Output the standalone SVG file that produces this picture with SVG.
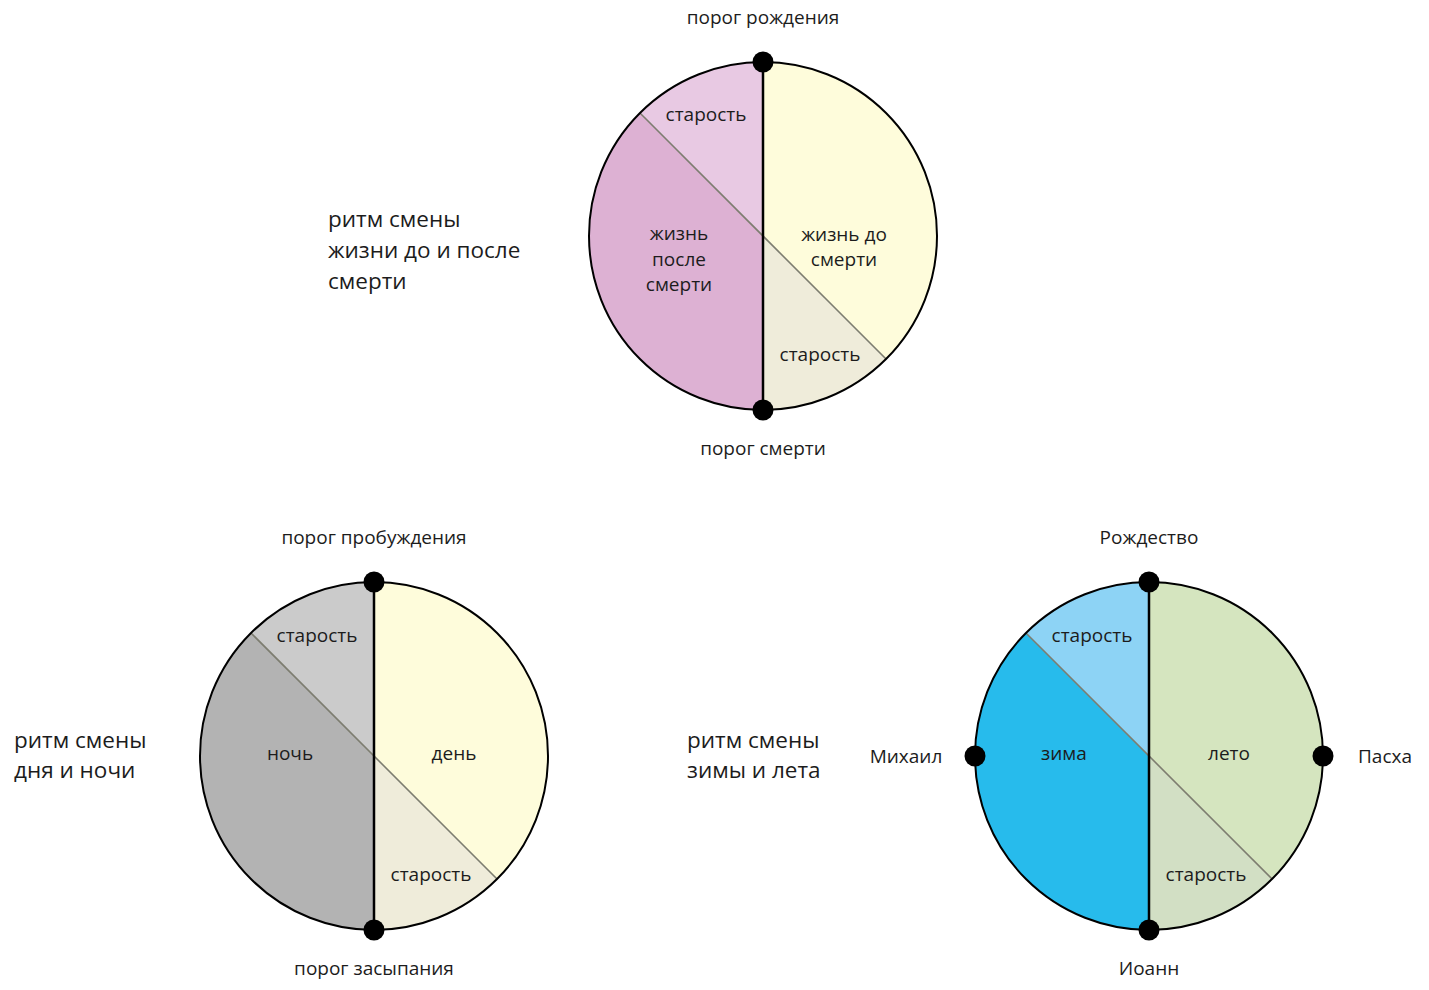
<svg xmlns="http://www.w3.org/2000/svg" width="1429" height="990" viewBox="0 0 1429 990">
<style>
.t{font-family:"Open Sans","Noto Sans","Liberation Sans",sans-serif;font-size:19px;fill:#1c1c1c;text-anchor:middle}
.s{font-family:"Open Sans","Noto Sans","Liberation Sans",sans-serif;font-size:22.5px;fill:#1c1c1c}
.ring{fill:none;stroke:#000;stroke-width:2}
.axis{stroke:#000;stroke-width:2.5}
.diag{stroke:#7d7d70;stroke-width:1.6}
.dot{fill:#000}
</style>
<rect width="1429" height="990" fill="#fff"/>

<g id="life">
  <path d="M763 236 L639.96 112.96 A174 174 0 0 1 763 62 Z" fill="#e8c9e3"/>
  <path d="M763 236 L763 410 A174 174 0 0 1 639.96 112.96 Z" fill="#ddb1d3"/>
  <path d="M763 236 L763 62 A174 174 0 0 1 886.04 359.04 Z" fill="#fefcdb"/>
  <path d="M763 236 L886.04 359.04 A174 174 0 0 1 763 410 Z" fill="#efecda"/>
  <line class="diag" x1="639.96" y1="112.96" x2="886.04" y2="359.04"/>
  <circle class="ring" cx="763" cy="236" r="174"/>
  <line class="axis" x1="763" y1="62" x2="763" y2="410"/>
  <circle class="dot" cx="763" cy="62" r="10.5"/>
  <circle class="dot" cx="763" cy="410" r="10.5"/>
  <text class="t" x="763" y="24">порог рождения</text>
  <text class="t" x="706" y="121">старость</text>
  <text class="t" x="679" y="240">жизнь</text>
  <text class="t" x="679" y="266">после</text>
  <text class="t" x="679" y="291">смерти</text>
  <text class="t" x="844" y="241">жизнь до</text>
  <text class="t" x="844" y="266">смерти</text>
  <text class="t" x="820" y="361">старость</text>
  <text class="t" x="763" y="455">порог смерти</text>
  <text class="s" x="328" y="227">ритм смены</text>
  <text class="s" x="328" y="258">жизни до и после</text>
  <text class="s" x="328" y="289">смерти</text>
</g>

<g id="day">
  <path d="M374 756 L250.96 632.96 A174 174 0 0 1 374 582 Z" fill="#cbcbcb"/>
  <path d="M374 756 L374 930 A174 174 0 0 1 250.96 632.96 Z" fill="#b3b3b3"/>
  <path d="M374 756 L374 582 A174 174 0 0 1 497.04 879.04 Z" fill="#fefcdb"/>
  <path d="M374 756 L497.04 879.04 A174 174 0 0 1 374 930 Z" fill="#efecda"/>
  <line class="diag" x1="250.96" y1="632.96" x2="497.04" y2="879.04"/>
  <circle class="ring" cx="374" cy="756" r="174"/>
  <line class="axis" x1="374" y1="582" x2="374" y2="930"/>
  <circle class="dot" cx="374" cy="582" r="10.5"/>
  <circle class="dot" cx="374" cy="930" r="10.5"/>
  <text class="t" x="374" y="544">порог пробуждения</text>
  <text class="t" x="317" y="642">старость</text>
  <text class="t" x="290" y="760">ночь</text>
  <text class="t" x="454" y="760">день</text>
  <text class="t" x="431" y="881">старость</text>
  <text class="t" x="374" y="975">порог засыпания</text>
  <text class="s" x="14" y="748">ритм смены</text>
  <text class="s" x="14" y="778">дня и ночи</text>
</g>

<g id="year">
  <path d="M1149 756 L1025.96 632.96 A174 174 0 0 1 1149 582 Z" fill="#8dd3f5"/>
  <path d="M1149 756 L1149 930 A174 174 0 0 1 1025.96 632.96 Z" fill="#27bbec"/>
  <path d="M1149 756 L1149 582 A174 174 0 0 1 1272.04 879.04 Z" fill="#d5e5bf"/>
  <path d="M1149 756 L1272.04 879.04 A174 174 0 0 1 1149 930 Z" fill="#d2dfc4"/>
  <line class="diag" x1="1025.96" y1="632.96" x2="1272.04" y2="879.04"/>
  <circle class="ring" cx="1149" cy="756" r="174"/>
  <line class="axis" x1="1149" y1="582" x2="1149" y2="930"/>
  <circle class="dot" cx="1149" cy="582" r="10.5"/>
  <circle class="dot" cx="1149" cy="930" r="10.5"/>
  <circle class="dot" cx="975" cy="756" r="10.5"/>
  <circle class="dot" cx="1323" cy="756" r="10.5"/>
  <text class="t" x="1149" y="544">Рождество</text>
  <text class="t" x="1092" y="642">старость</text>
  <text class="t" x="1064" y="760">зима</text>
  <text class="t" x="1229" y="760">лето</text>
  <text class="t" x="1206" y="881">старость</text>
  <text class="t" x="1149" y="975">Иоанн</text>
  <text class="t" x="906" y="763">Михаил</text>
  <text class="t" x="1385" y="763">Пасха</text>
  <text class="s" x="687" y="748">ритм смены</text>
  <text class="s" x="687" y="778">зимы и лета</text>
</g>
</svg>
